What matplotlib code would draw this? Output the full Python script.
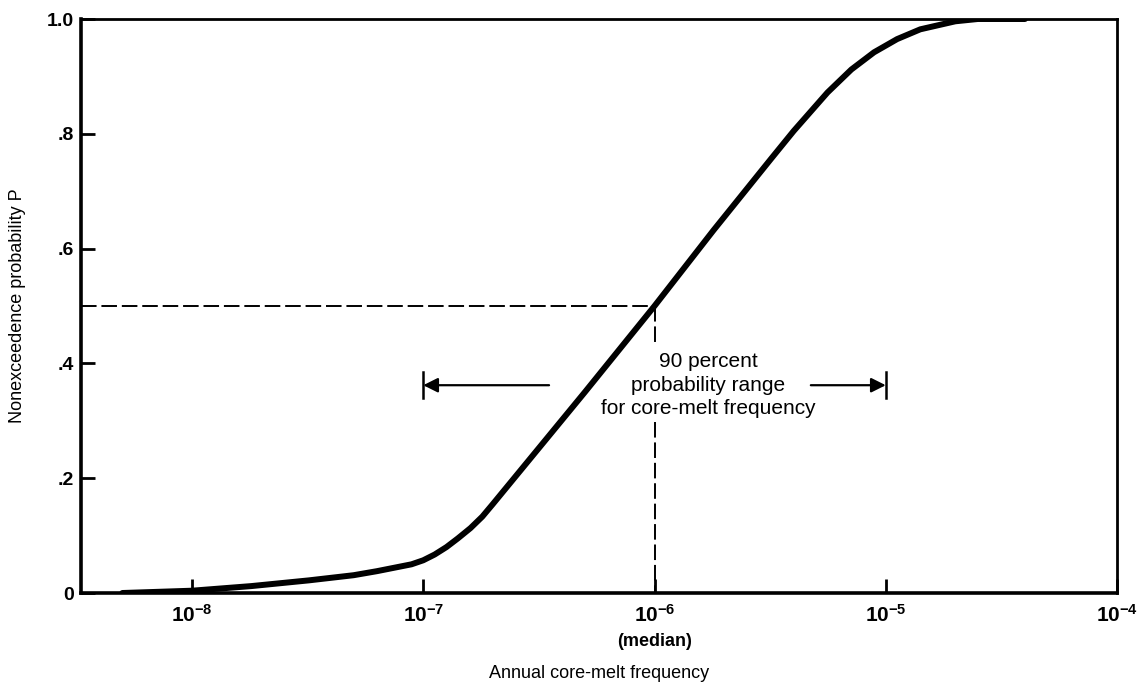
"""Cumulative distribution of annual core-melt frequency."""

import matplotlib
matplotlib.use("Agg")
import matplotlib.pyplot as plt

plt.rcParams["font.family"] = ["Liberation Sans", "DejaVu Sans"]
plt.rcParams["mathtext.fontset"] = "custom"
plt.rcParams["mathtext.rm"] = "Liberation Sans"
plt.rcParams["mathtext.bf"] = "Liberation Sans:bold"

# Nonexceedence curve (frequency per reactor-year, probability P)
freq = [5.0e-9, 1.0e-8, 1.8e-8, 3.2e-8, 5.0e-8, 6.3e-8, 8.9e-8, 1.0e-7,
        1.12e-7, 1.26e-7, 1.41e-7, 1.6e-7, 1.8e-7, 2.0e-7, 3.2e-7, 5.0e-7,
        1.0e-6, 1.8e-6, 3.2e-6, 4.0e-6, 5.6e-6, 7.1e-6, 8.9e-6, 1.12e-5,
        1.41e-5, 2.0e-5, 2.5e-5, 4.0e-5]
prob = [0.000, 0.004, 0.012, 0.022, 0.031, 0.038, 0.050, 0.057,
        0.067, 0.080, 0.095, 0.113, 0.133, 0.155, 0.255, 0.350,
        0.500, 0.632, 0.757, 0.805, 0.872, 0.912, 0.942, 0.965,
        0.982, 0.996, 1.000, 1.000]

median_freq = 1.0e-6
median_p = 0.5
range_low = 1.0e-7
range_high = 1.0e-5

x_ticks = [1e-8, 1e-7, 1e-6, 1e-5, 1e-4]
x_tick_labels = [r"$\mathbf{10^{-8}}$", r"$\mathbf{10^{-7}}$", r"$\mathbf{10^{-6}}$",
                 r"$\mathbf{10^{-5}}$", r"$\mathbf{10^{-4}}$"]
y_ticks = [0, 0.2, 0.4, 0.6, 0.8, 1.0]
y_tick_labels = ["0", ".2", ".4", ".6", ".8", "1.0"]

fig = plt.figure(figsize=(11.4, 7), dpi=100)
ax = fig.add_axes([81 / 1140, 107 / 700, 1036 / 1140, 574 / 700])

ax.set_xscale("log")
ax.set_xlim(10 ** -8.48, 1e-4)
ax.set_ylim(0, 1.0)

# main curve
ax.plot(freq, prob, color="black", lw=4.3, solid_capstyle="round",
        solid_joinstyle="round", zorder=3)

# median guide lines
dash_kw = dict(color="black", lw=1.4, dashes=(8, 2.5))
ax.plot([10 ** -8.48, median_freq], [median_p, median_p], **dash_kw)
ax.plot([median_freq, median_freq], [median_p, 0.432], **dash_kw)
ax.plot([median_freq, median_freq], [0.298, 0], **dash_kw)

# 90 percent range arrows
arrow_p = 0.362
bar_half = 0.023
for edge, tail in [(range_low, 10 ** -6.456), (range_high, 10 ** -5.324)]:
    ax.annotate("", xy=(edge, arrow_p), xytext=(tail, arrow_p),
                arrowprops=dict(arrowstyle="-|>", color="black", lw=1.6,
                                mutation_scale=22, shrinkA=0, shrinkB=0))
    ax.plot([edge, edge], [arrow_p - bar_half, arrow_p + bar_half],
            color="black", lw=1.8)

ax.text(10 ** -5.767, arrow_p, "90 percent\nprobability range\nfor core-melt frequency",
        ha="center", va="center", fontsize=15, linespacing=1.3)

# axes styling
for side in ["left", "bottom", "right", "top"]:
    ax.spines[side].set_linewidth(2.0)
ax.spines["left"].set_linewidth(2.6)
ax.spines["bottom"].set_linewidth(2.6)

ax.minorticks_off()
ax.set_xticks(x_ticks)
ax.set_xticklabels(x_tick_labels, fontsize=15)
ax.set_yticks(y_ticks)
ax.set_yticklabels(y_tick_labels, fontsize=14, fontweight="bold")
ax.tick_params(axis="both", direction="in", length=10, width=2.0, color="black")
ax.tick_params(axis="x", pad=8)
ax.tick_params(axis="y", pad=5)

ax.text(median_freq, -0.084, "(median)", transform=ax.get_xaxis_transform(),
        ha="center", va="center", fontsize=13, fontweight="bold")

ax.set_xlabel("Annual core-melt frequency", fontsize=13)
ax.xaxis.set_label_coords(0.5, -0.125)
ax.set_ylabel("Nonexceedence probability P", fontsize=13)
ax.yaxis.set_label_coords(-0.053, 0.5)

fig.savefig("out.png", dpi=100)
plt.close(fig)
